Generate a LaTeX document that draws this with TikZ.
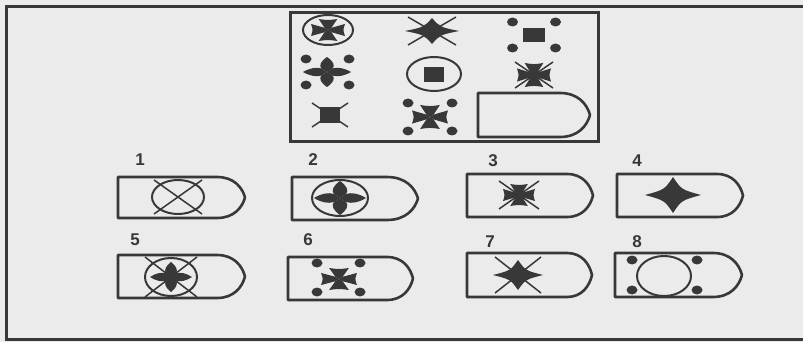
\documentclass[tikz,border=0pt]{standalone}
\usepackage{fontspec}
\setmainfont{Liberation Sans}
\usepackage{tikz}
\usetikzlibrary{positioning}

\definecolor{ink}{gray}{0.22}
\definecolor{paper}{gray}{0.92}

% glyph macros: centre x, centre y, half width, half height
\newcommand{\pattee}[4]{%
  \begin{scope}[shift={(#1,#2)},xscale=#3,yscale=#4]
    \foreach \a in {0,90,180,270}
      \fill[ink,rotate=\a] (0,0) -- (0.2,-0.2) -- (1,-0.55) .. controls (0.88,0) .. (1,0.55) -- (0.2,0.2) -- cycle;
  \end{scope}}
\newcommand{\roundstar}[4]{%
  \begin{scope}[shift={(#1,#2)},xscale=#3,yscale=#4]
    \foreach \a in {0,90,180,270}
      \fill[ink,rotate=\a] (0,0) -- (0.24,-0.24) .. controls (0.45,-0.34) and (0.72,-0.26) .. (1,0) .. controls (0.72,0.26) and (0.45,0.34) .. (0.24,0.24) -- cycle;
  \end{scope}}
\newcommand{\sharpstar}[4]{%
  \fill[ink,shift={(#1,#2)},xscale=#3,yscale=#4] (1,0) .. controls (0.3,0.3) .. (0,1) .. controls (-0.3,0.3) .. (-1,0) .. controls (-0.3,-0.3) .. (0,-1) .. controls (0.3,-0.3) .. (1,0) -- cycle;}
\newcommand{\xlines}[4]{%
  \draw[xline] ({#1-#3},{#2-#4}) -- ({#1+#3},{#2+#4}) ({#1-#3},{#2+#4}) -- ({#1+#3},{#2-#4});}
\newcommand{\fourdots}[4]{%
  \foreach \dx in {-1,1} \foreach \dy in {-1,1}
    \fill[ink] ({#1+\dx*#3},{#2+\dy*#4}) ellipse [x radius=5.5, y radius=4.5];}
% shield: left, top, nose start, tip, bottom
\newcommand{\shield}[5]{%
  \draw[shieldline] (#1,#2) -- (#3,#2) .. controls ({#3+0.6*(#4-#3)},#2) and ({#4-0.1*(#4-#3)},{#2+0.25*(#5-#2)}) .. (#4,{(#2+#5)/2})
    .. controls ({#4-0.1*(#4-#3)},{#5-0.25*(#5-#2)}) and ({#3+0.6*(#4-#3)},#5) .. (#3,#5) -- (#1,#5) -- cycle;}

\begin{document}
\begin{tikzpicture}[
  x=1pt, y=-1pt,
  ring/.style={draw=ink, line width=2pt},
  xline/.style={draw=ink, line width=1.5pt},
  shieldline/.style={draw=ink, line width=2.6pt, line join=round},
  boxline/.style={draw=ink, line width=3pt},
  numlabel/.style={font=\bfseries\fontsize{17}{17}\selectfont, text=ink, inner sep=0pt}
]
  \useasboundingbox (0,0) rectangle (803,342);
  \fill[paper] (0,0) rectangle (803,342);
  \draw[boxline] (803,7) -- (6,7) -- (6,339) -- (803,339);

  % matrix of figures
  \draw[boxline] (290,13) rectangle (598,142);
  \draw[ring] (328,30) ellipse [x radius=25, y radius=15];
  \pattee{328}{30}{17}{11}
  \sharpstar{432}{31}{27}{13}
  \xlines{432}{31}{24}{14}
  \fill[ink] (523,28) rectangle (545,42);
  \fourdots{534}{35}{21.5}{13}
  \roundstar{327}{72}{24}{15}
  \fourdots{327.5}{72}{21.5}{13}
  \draw[ring] (434,74) ellipse [x radius=27, y radius=17];
  \fill[ink] (424,67) rectangle (444,82);
  \pattee{534}{75}{17}{12}
  \xlines{534}{75}{19}{13}
  \fill[ink] (320,107) rectangle (340,123);
  \xlines{330}{115}{18}{12}
  \pattee{430}{117}{18}{12}
  \fourdots{430}{117}{22}{14}
  \shield{478}{93}{560}{590}{137}

  % answers
  \node[numlabel] (lab1) at (140,160) {1};
  \node[numlabel] (lab2) at (313,160) {2};
  \node[numlabel] (lab3) at (493,161) {3};
  \node[numlabel] (lab4) at (637,161) {4};
  \node[numlabel] (lab5) at (135,240) {5};
  \node[numlabel] (lab6) at (308,240) {6};
  \node[numlabel] (lab7) at (490,242) {7};
  \node[numlabel] (lab8) at (637,242) {8};

  \shield{118}{177}{217}{245}{218}
  \draw[ring] (178,197) ellipse [x radius=26, y radius=17];
  \xlines{178}{197}{24}{17}

  \shield{292}{177}{387}{418}{220}
  \draw[ring] (340,198) ellipse [x radius=28, y radius=18];
  \roundstar{340}{198}{26}{17}

  \shield{467}{174}{567}{593}{217}
  \pattee{519}{195}{16}{11}
  \xlines{519}{195}{20}{14}

  \shield{617}{174}{717}{743}{217}
  \sharpstar{673}{195}{28}{18}

  \shield{118}{255}{217}{245}{298}
  \draw[ring] (171,277) ellipse [x radius=26, y radius=19];
  \xlines{171}{277}{26}{20}
  \roundstar{171}{277}{21}{15}

  \shield{288}{257}{387}{413}{300}
  \pattee{339}{279}{18}{11}
  \fourdots{338.5}{277.5}{21.5}{14.5}

  \shield{467}{253}{567}{592}{297}
  \sharpstar{518}{275}{25}{15}
  \xlines{518}{275}{23}{18}

  \shield{615}{253}{713}{742}{297}
  \draw[ring] (664,276) ellipse [x radius=27, y radius=20];
  \fourdots{664.5}{275}{32.5}{15}
\end{tikzpicture}
\end{document}
